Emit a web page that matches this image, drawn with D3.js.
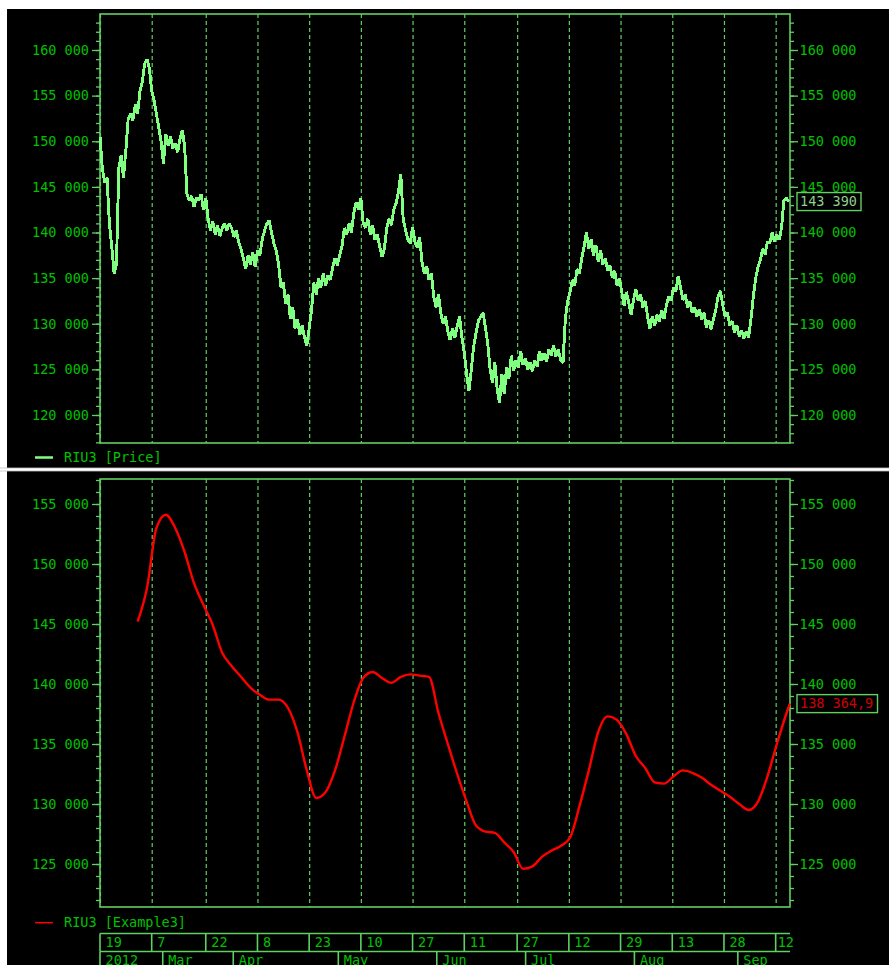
<!DOCTYPE html>
<html><head><meta charset="utf-8">
<script src="https://cdn.jsdelivr.net/npm/d3@7"></script>
<style>html,body{margin:0;padding:0;background:#000;}svg{display:block}</style>
</head><body>
<svg id="c" width="889" height="965"></svg>
<script>
// ---------- DATA ----------
const seriesName1 = "RIU3 [Price]";
const seriesName2 = "RIU3 [Example3]";
// price, one value per half-session bar (bar index 0..293)
const priceValues = [
150500,147000,145500,146000,141000,138500,135500,136500,147000,148500,
146000,149000,152500,153000,152300,154000,153000,155500,156500,158500,
159000,158000,155500,154500,153000,151500,150000,147500,150800,149500,
150500,149200,149800,148800,150200,151200,149500,144200,143500,144000,
142800,143800,143500,144200,142500,143800,141500,140200,141200,139800,
140800,139600,140500,141000,140200,141000,140500,139500,140200,139000,
138200,137200,136000,137500,136500,137800,136200,138000,137500,139200,
140200,141000,141300,140000,138800,138000,136500,134000,134500,132200,
133200,130500,131800,129500,130500,128800,129800,128500,127600,129500,
131500,134500,133200,135000,134000,135500,134200,135300,134800,136200,
137200,136400,137500,138500,140500,139800,141000,140000,142200,143300,
142500,143800,141000,140500,141500,139800,140800,139200,139800,138500,
137300,138200,140500,141500,140800,142500,143200,144500,146400,141500,
140300,139200,138800,140600,139000,138300,139500,136800,135500,136300,
134800,135500,133000,131800,133200,131200,130000,130800,129200,128200,
129500,128500,129800,130800,128500,126800,124500,122600,125000,127500,
129000,130300,130800,131200,129600,127800,125000,123500,125800,122800,
121300,124500,122300,125200,124000,126500,124800,126000,125200,127000,
125500,126200,125000,125800,124800,126000,125300,127000,126000,126800,
125800,127200,126500,127600,126400,127200,126000,125700,130500,132500,
133500,134800,134200,136000,135500,137200,138500,140000,138200,139300,
137500,138600,136800,138000,136500,137200,135800,136400,135000,135800,
134200,135000,133500,132000,133500,132300,131000,132600,133800,132500,
133200,131800,132500,130800,129500,130800,129800,131000,130200,131500,
130500,132000,133000,132500,134000,133500,135200,134000,132600,133200,
131800,132400,131200,131800,130800,131600,130500,131200,129600,130400,
129400,130500,131500,133000,133600,132000,130800,131200,129800,130300,
129000,129800,128600,129300,128400,129200,128500,130500,133000,135000,
136200,137000,138200,137600,139000,138800,140000,139000,139800,139200,
140500,143500,143800,143390];
// Example3 indicator, every 4 bars from bar 16, plus last value
const example3FirstBar = 16, example3Step = 4;
const example3Values = [
145200,148000,153000,154100,153000,151000,148400,146600,144900,142600,
141500,140600,139700,139100,138700,138700,138000,136000,132800,130500,
131000,132800,135600,138500,140500,141000,140500,140100,140600,140800,
140700,140600,137600,135000,132500,130200,128200,127700,127600,126800,
126000,124600,124800,125600,126100,126500,127200,129800,132800,136000,
137300,137000,135800,134000,133000,131800,131700,132300,132800,132600,
132200,131600,131100,130600,130000,129500,130200,132300,135000,137500];
const example3LastBar = 293.5, example3LastValue = 138364.9;
const priceLastValue = 143390;
// date axis
const dayLabels = ["19","7","22","8","23","10","27","11","27","12","29","13","28","12"];
const dayBars   = [0,22,45,67,89,111,133,155,177.5,199.5,221.5,243.5,265.5,287.5];
const monthLabels = ["2012","Mar","Apr","May","Jun","Jul","Aug","Sep"];
const monthBars   = [0,26.7,56.7,101.4,143.3,181.1,227.4,271.4];
const barCount = 293.6;
const topMajorTicks = [120000,125000,130000,135000,140000,145000,150000,155000,160000];
const botMajorTicks = [125000,130000,135000,140000,145000,150000,155000];

// ---------- STYLE / LAYOUT ----------
const FONT = "'DejaVu Sans Mono', monospace";
const FS = "13.5px";
const TXT = "#00c000", FRAME = "#60d060", PRICE = "#80ff80", RED = "#ff0000";
const L = 100, R = 790;
const P1 = {top: 14, bottom: 443}, P2 = {top: 479, bottom: 907};

const loc = d3.formatLocale({decimal: ",", thousands: " ", grouping: [3], currency: ["", ""]});
const fmt = loc.format(",d"), fmt1 = loc.format(",.1f");

const svg = d3.select("#c");
svg.append("rect").attr("width", 889).attr("height", 965).attr("fill", "#000");
svg.append("rect").attr("width", 889).attr("height", 9).attr("fill", "#fff");
svg.append("rect").attr("width", 7).attr("height", 965).attr("fill", "#fff");
svg.append("rect").attr("x", 0).attr("y", 467.6).attr("width", 889).attr("height", 3.8).attr("fill", "#bdbdbd");
svg.append("rect").attr("x", 0).attr("y", 468.4).attr("width", 889).attr("height", 2.2).attr("fill", "#ffffff");

const x = d3.scaleLinear().domain([0, barCount]).range([L, R]);
const yTop = d3.scaleLinear().domain([116930, 163945]).range([P1.bottom, P1.top]);
const yBot = d3.scaleLinear().domain([121417, 157083]).range([P2.bottom, P2.top]);

function panel(P, y, major, minorFrom, minorTo) {
  const g = svg.append("g");
  g.selectAll("line.grid").data(dayBars).join("line")
    .attr("x1", d => x(d) + 0.5).attr("x2", d => x(d) + 0.5)
    .attr("y1", P.top).attr("y2", P.bottom)
    .attr("stroke", FRAME).attr("stroke-width", 1.2).attr("stroke-dasharray", "4,3");
  const minor = d3.range(minorFrom, minorTo + 1, 1000);
  const axes = [
    [d3.axisLeft(y).tickValues(minor).tickSize(4).tickFormat(""), L],
    [d3.axisLeft(y).tickValues(major).tickSize(8).tickPadding(3).tickFormat(fmt), L],
    [d3.axisRight(y).tickValues(minor).tickSize(4).tickFormat(""), R],
    [d3.axisRight(y).tickValues(major).tickSize(8).tickPadding(1.5).tickFormat(fmt), R]
  ];
  axes.forEach(([ax, pos]) => {
    const a = g.append("g").attr("transform", `translate(${pos},0)`).call(ax);
    a.select(".domain").remove();
    a.selectAll("line").attr("stroke", FRAME).attr("stroke-width", 1.3);
    a.selectAll("text").attr("fill", TXT).style("font-family", FONT).style("font-size", FS);
  });
  g.append("rect").attr("x", L).attr("y", P.top).attr("width", R - L).attr("height", P.bottom - P.top)
    .attr("fill", "none").attr("stroke", FRAME).attr("stroke-width", 1.6);
  return g;
}
panel(P1, yTop, topMajorTicks, 117000, 163000);
panel(P2, yBot, botMajorTicks, 122000, 157000);

// price line
const priceData = priceValues.map((v, i) => ({b: i, v}));
svg.append("path").datum(priceData)
  .attr("d", d3.line().x(d => x(d.b)).y(d => yTop(d.v)))
  .attr("fill", "none").attr("stroke", PRICE).attr("stroke-width", 2.9)
  .attr("stroke-linejoin", "bevel").attr("shape-rendering", "crispEdges");

// example3 line
const exData = example3Values.map((v, i) => ({b: example3FirstBar + i * example3Step, v}));
exData.push({b: example3LastBar, v: example3LastValue});
svg.append("path").datum(exData)
  .attr("d", d3.line().curve(d3.curveMonotoneX).x(d => x(d.b)).y(d => yBot(d.v)))
  .attr("fill", "none").attr("stroke", RED).attr("stroke-width", 2.4);

// last value boxes
function lastBox(yv, text, w, col) {
  const g = svg.append("g").attr("transform", `translate(${R + 7},${yv})`);
  g.append("rect").attr("x", 0).attr("y", -9).attr("width", w).attr("height", 18)
    .attr("fill", "#000").attr("stroke", FRAME).attr("stroke-width", 1.4);
  g.append("text").attr("x", 3).attr("y", 0).attr("dy", "0.36em").text(text)
    .attr("fill", col).style("font-family", FONT).style("font-size", FS);
}
lastBox(yTop(priceLastValue), fmt(priceLastValue), 64, "#8fcf8f");
lastBox(yBot(example3LastValue), fmt1(example3LastValue), 80.5, "#d00000");

// legends
function legend(yc, col, sw, text) {
  svg.append("line").attr("x1", 35).attr("x2", 53).attr("y1", yc).attr("y2", yc)
    .attr("stroke", col).attr("stroke-width", sw);
  svg.append("text").attr("x", 64).attr("y", yc).attr("dy", "0.34em").text(text)
    .attr("fill", TXT).style("font-family", FONT).style("font-size", FS);
}
legend(457.5, PRICE, 2.5, seriesName1);
legend(922.7, RED, 1.5, seriesName2);

// date axis
const da = svg.append("g");
const rowTop = 933.5, rowMid = 951.5, rowBot = 966;
[rowTop, rowMid].forEach(yy => da.append("line").attr("x1", L).attr("x2", R).attr("y1", yy).attr("y2", yy)
  .attr("stroke", FRAME).attr("stroke-width", 1.6));
da.selectAll("line.d").data(dayBars).join("line").attr("class", "d")
  .attr("x1", d => x(d)).attr("x2", d => x(d)).attr("y1", rowTop).attr("y2", rowMid)
  .attr("stroke", FRAME).attr("stroke-width", 1.6);
da.selectAll("text.d").data(dayLabels).join("text").attr("class", "d")
  .attr("x", (d, i) => x(dayBars[i]) + (i === dayLabels.length - 1 ? 2 : 5.5)).attr("y", 947)
  .text(d => d).attr("fill", TXT).style("font-family", FONT).style("font-size", FS);
da.selectAll("line.m").data(monthBars).join("line").attr("class", "m")
  .attr("x1", d => x(d)).attr("x2", d => x(d)).attr("y1", rowMid).attr("y2", rowBot)
  .attr("stroke", FRAME).attr("stroke-width", 1.6);
da.selectAll("text.m").data(monthLabels).join("text").attr("class", "m")
  .attr("x", (d, i) => x(monthBars[i]) + 5.5).attr("y", 964.5)
  .text(d => d).attr("fill", TXT).style("font-family", FONT).style("font-size", FS);
</script>
</body></html>
